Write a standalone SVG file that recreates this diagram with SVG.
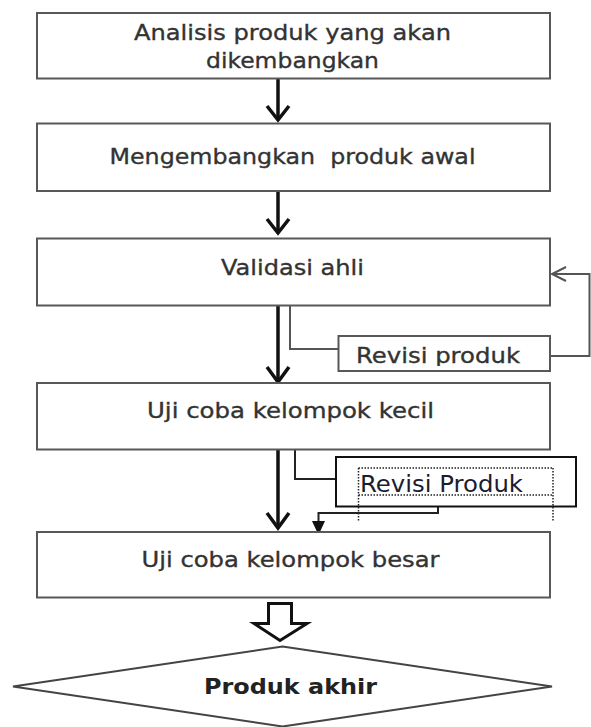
<svg xmlns="http://www.w3.org/2000/svg" width="591" height="727" viewBox="0 0 591 727">
<style>
.box{fill:#fff;stroke:#585858;stroke-width:2}
.t{font-family:"DejaVu Sans",Verdana,sans-serif;font-size:21.5px;fill:#333;stroke:#333;stroke-width:0.35}
.tb{font-family:"DejaVu Sans",Verdana,sans-serif;font-size:21px;font-weight:bold;fill:#222}
.thick{fill:none;stroke:#111;stroke-width:3.5}
.thin{fill:none;stroke:#555;stroke-width:2}
.dark{fill:none;stroke:#222;stroke-width:2}
</style>
<defs>
<clipPath id="clipRev"><rect x="338" y="336" width="212" height="30"/></clipPath>
</defs>
<rect width="591" height="727" fill="#fff"/>
<g id="connectors">
<line class="thick" x1="278" y1="79" x2="278" y2="119"/>
<polyline class="thick" points="267,106 278,120 289,106"/>
<line class="thick" x1="278" y1="192" x2="278" y2="232"/>
<polyline class="thick" points="267,219 278,233 289,219"/>
<line class="thick" x1="278" y1="306" x2="278" y2="381"/>
<polyline class="thick" points="267,367 278,382 289,367"/>
<line class="thick" x1="278" y1="450" x2="278" y2="527"/>
<polyline class="thick" points="267,513 278,528 289,513"/>
<polyline class="thin" points="290,306 290,349 338,349"/>
<polyline class="thin" points="550,356 589.5,356 589.5,274 552,274"/>
<polyline class="thin" points="566,267 552,274 566,281"/>
<polyline class="dark" points="295,450 295,479 336,479"/>
<polyline class="dark" points="438,507 438,513 318.5,513 318.5,523"/>
<polygon points="312,521 325,521 318.5,535" fill="#111"/>
<polygon points="268.5,603.5 291.5,603.5 291.5,623.5 307,623.5 280,640.5 254,623.5 268.5,623.5" fill="#fff" stroke="#111" stroke-width="3" stroke-linejoin="miter"/>
</g>
<g id="node-analisis">
<rect class="box" x="37" y="13" width="513" height="65.5"/>
<text class="t" x="134" y="40" textLength="317" lengthAdjust="spacingAndGlyphs">Analisis produk yang akan</text>
<text class="t" x="206" y="67.5" textLength="173" lengthAdjust="spacingAndGlyphs">dikembangkan</text>
</g>
<g id="node-mengembangkan">
<rect class="box" x="37" y="123.5" width="513" height="67.5"/>
<text class="t" x="109.5" y="163.5" textLength="366" lengthAdjust="spacingAndGlyphs" xml:space="preserve">Mengembangkan  produk awal</text>
</g>
<g id="node-validasi">
<rect class="box" x="37" y="238.5" width="513" height="67"/>
<text class="t" x="221" y="274.5" textLength="143" lengthAdjust="spacingAndGlyphs">Validasi ahli</text>
</g>
<g id="node-revisi1">
<rect class="box" x="338.5" y="336" width="211.5" height="35"/>
<text class="t" x="356" y="362.5" textLength="164" lengthAdjust="spacingAndGlyphs" clip-path="url(#clipRev)">Revisi produk</text>
</g>
<g id="node-kecil">
<rect class="box" x="37" y="383" width="513" height="66.5"/>
<text class="t" x="147" y="417.5" textLength="287" lengthAdjust="spacingAndGlyphs">Uji coba kelompok kecil</text>
</g>
<g id="node-revisi2">
<rect x="336" y="457" width="240" height="49.5" fill="#fff" stroke="#111" stroke-width="2"/>
<path d="M358.5,468 H553 M358.5,495 H553 M358.5,468 V522 M553,468 V522" fill="none" stroke="#222" stroke-width="1.5" stroke-dasharray="1.5,1.5"/>
<text x="360" y="491.5" font-family="DejaVu Sans, Verdana, sans-serif" font-size="23" fill="#1c1c30" textLength="163" lengthAdjust="spacingAndGlyphs">Revisi Produk</text>
</g>
<g id="node-besar">
<rect class="box" x="37" y="532" width="513" height="65.5"/>
<text class="t" x="141.5" y="566.5" textLength="298" lengthAdjust="spacingAndGlyphs">Uji coba kelompok besar</text>
</g>
<g id="node-akhir">
<polygon points="282.5,646.5 552,686.5 282.5,726.5 13,686.5" fill="#fff" stroke="#444" stroke-width="2"/>
<text class="tb" x="204" y="694" textLength="173" lengthAdjust="spacingAndGlyphs">Produk akhir</text>
</g>
</svg>
